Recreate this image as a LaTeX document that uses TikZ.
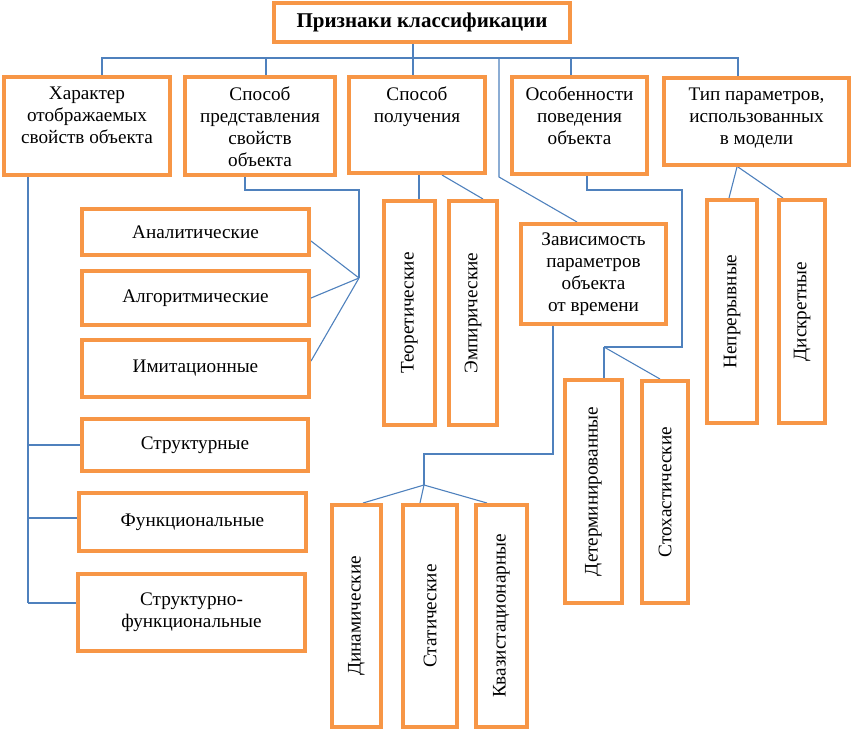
\documentclass[tikz,border=0pt]{standalone}
\usepackage{fontspec}
\setmainfont{Liberation Serif}
\usepackage{tikz}
\usetikzlibrary{positioning,backgrounds}
\definecolor{boxorange}{RGB}{247,150,70}
\definecolor{linkblue}{RGB}{79,129,189}

\begin{document}
\begin{tikzpicture}[x=1pt, y=-1pt, font=\fontsize{19.2}{21.8}\selectfont,
    box/.style={draw=boxorange, line width=4pt, fill=white, inner sep=0pt, align=center},
    vbox/.style={box, rotate=90},
    title/.style={inner sep=0pt, align=center},
    link/.style={draw=linkblue, line width=1.1pt}]

    \useasboundingbox (0,0) rectangle (854,732);

    % Top
    \node[box, minimum width=296, minimum height=39] (klass) at (422,22.5) {\fontsize{21}{24}\selectfont\textbf{Признаки классификации}};

    % First row (text sits near the top of each box)
    \node[box, minimum width=166, minimum height=98] (char) at (87,126) {};
    \node[box, minimum width=150, minimum height=98] (repr) at (260,126) {};
    \node[box, minimum width=136, minimum height=96] (obtain) at (417,125) {};
    \node[box, minimum width=135, minimum height=97] (behav) at (579.5,125.5) {};
    \node[box, minimum width=185, minimum height=87] (ptype) at (756.5,121.5) {};
    \node[title, below=12pt of char.north] (chartxt) {Характер\\отображаемых\\свойств объекта};
    \node[title, below=12pt of repr.north] (reprtxt) {Способ\\представления\\свойств\\объекта};
    \node[title, below=12pt of obtain.north] (obtaintxt) {Способ\\получения};
    \node[title, below=12pt of behav.north] (behavtxt) {Особенности\\поведения\\объекта};
    \node[title, below=12pt of ptype.north] (ptypetxt) {Тип параметров,\\использованных\\в модели};

    % Left column
    \node[box, minimum width=227, minimum height=46] (anal) at (195.5,232) {Аналитические};
    \node[box, minimum width=227, minimum height=54] (algo) at (195.5,298) {Алгоритмические};
    \node[box, minimum width=227, minimum height=57] (imit) at (195.5,368.5) {Имитационные};
    \node[box, minimum width=226, minimum height=52] (struct) at (195,445) {Структурные};
    \node[box, minimum width=227, minimum height=58] (func) at (192.5,522) {Функциональные};
    \node[box, minimum width=227, minimum height=77] (strfunc) at (191.5,612.5) {Структурно-\\функциональные};

    % Upright boxes (rotated: .east is the top side)
    \node[vbox, minimum width=224, minimum height=51] (theor) at (409.5,313) {Теоретические};
    \node[vbox, minimum width=224, minimum height=48] (empir) at (473,313) {Эмпирические};
    \node[box, minimum width=145, minimum height=100] (depend) at (593.5,274) {Зависимость\\параметров\\объекта\\от времени};
    \node[vbox, minimum width=223, minimum height=57] (determ) at (593.5,491.5) {Детерминированные};
    \node[vbox, minimum width=222, minimum height=46] (stoch) at (665,492) {Стохастические};
    \node[vbox, minimum width=223, minimum height=50] (cont) at (732,311.5) {Непрерывные};
    \node[vbox, minimum width=223, minimum height=46] (discr) at (802,311.5) {Дискретные};
    \node[vbox, minimum width=222, minimum height=49] (dyn) at (356.5,616) {Динамические};
    \node[vbox, minimum width=222, minimum height=54] (stat) at (430,616) {Статические};
    \node[vbox, minimum width=222, minimum height=51] (quasi) at (501.5,616) {Квазистационарные};

    \begin{scope}[on background layer]
        % Bus under the title
        \draw[link] (413,0 |- klass.south) -- (413,0 |- obtain.north);
        \draw[link] (char.north -| 102,0) |- (738,58) -- (ptype.north -| 738,0);
        \draw[link] (266,58) -- (repr.north -| 266,0);
        \draw[link] (571,58) -- (behav.north -| 571,0);
        \draw[link] (499,58) -- (499,177) -- (depend.north -| 577,0);

        % Character of properties
        \draw[link] (char.south -| 28,0) -- (28,603);
        \draw[link] (28,0 |- struct.west) -- (struct.west);
        \draw[link] (28,518) -- ([yshift=4pt]func.west);
        \draw[link] (28,603) -- ([yshift=9.5pt]strfunc.west);

        % Way of representation
        \draw[link] (repr.south -| 245,0) |- (359,190) -- (359,278) coordinate (reprfan);
        \draw[link] (reprfan) -- ([yshift=-9pt]anal.east);
        \draw[link] (reprfan) -- (algo.east);
        \draw[link] (reprfan) -- ([yshift=7.5pt]imit.east);

        % Way of obtaining
        \draw[link] (obtain.south -| 419,0) -- (theor.east -| 419,0);
        \draw[link] (obtain.south -| 442,0) -- (empir.east -| 483,0);

        % Behaviour
        \draw[link] (behav.south -| 587,0) |- (682,190) |- (604,347) coordinate (behfan);
        \draw[link] (behfan) -- (determ.east -| 604,0);
        \draw[link] (behfan) -- (stoch.east -| 660,0);

        % Parameter type
        \draw[link] (ptype.south -| 737,0) -- (cont.east -| 729,0);
        \draw[link] (ptype.south -| 738,0) -- (discr.east -| 783,0);

        % Time dependence
        \draw[link] (depend.south -| 553,0) |- (424,454) -- (424,485) coordinate (depfan);
        \draw[link] (depfan) -- (dyn.east -| 363,0);
        \draw[link] (depfan) -- (stat.east -| 420,0);
        \draw[link] (depfan) -- (quasi.east -| 487,0);
    \end{scope}

\end{tikzpicture}
\end{document}
